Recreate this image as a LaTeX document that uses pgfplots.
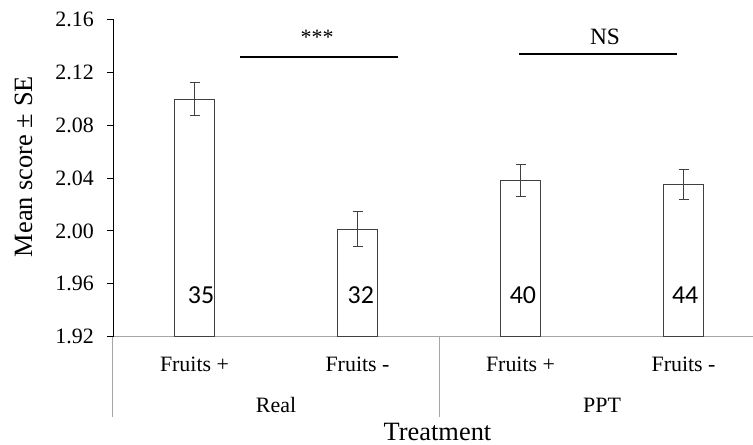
\documentclass[border=0pt]{standalone}
\usepackage{pgfplots}
\pgfplotsset{compat=1.18}
\usepackage{fontspec}
\setmainfont{Liberation Serif}
\newfontfamily\calibri{Carlito}
\definecolor{axgray}{HTML}{A6A6A6}
\definecolor{bardark}{HTML}{404040}
\begin{document}
\begin{tikzpicture}
\begin{axis}[
    at={(0,0)}, anchor=south west,
    scale only axis,
    width=640bp, height=317.4bp,
    xmin=-0.5, xmax=3.426,
    ymin=1.92, ymax=2.16,
    clip mode=individual,
    axis x line*=bottom, axis y line*=left,
    x axis line style={draw=axgray, line width=1bp, -},
    y axis line style={draw=black, line width=0.9bp, -},
    ytick={1.92,1.96,2.00,2.04,2.08,2.12,2.16},
    ytick align=outside,
    major tick length=6bp,
    ytick style={black, line width=0.9bp},
    yticklabel style={/pgf/number format/fixed, /pgf/number format/fixed zerofill,
        /pgf/number format/precision=2, /pgf/number format/assume math mode=true,
        font=\fontsize{22}{26}\selectfont, inner sep=0pt, xshift=-13bp},
    xtick={0,1,2,3},
    xticklabels={Fruits +, Fruits -, Fruits +, Fruits -},
    xtick style={draw=none},
    xticklabel style={font=\fontsize{22}{26}\selectfont, anchor=base, inner sep=0pt, yshift=-35bp},
    extra x ticks={0.5,2.5},
    extra x tick labels={Real, PPT},
    extra x tick style={xtick style={draw=none},
        xticklabel style={yshift=-40.3bp}},
    ylabel={Mean score ± SE},
    ylabel style={font=\fontsize{26.5}{30}\selectfont, at={(axis description cs:-0.14,0.536)},
        anchor=center},
    xlabel={Treatment},
    xlabel style={font=\fontsize{26.5}{30}\selectfont, at={(axis description cs:0.507,-0.327)},
        anchor=base},
]
\addplot[ybar, bar width=40.5bp, fill=white, draw=bardark, line width=1bp,
    error bars/.cd, y dir=both, y explicit,
    error bar style={draw=bardark, line width=1bp},
    error mark options={rotate=90, mark size=5bp, draw=bardark, line width=1bp}]
coordinates {
    (0,2.0996) +- (0,0.0125)
    (1,2.0013) +- (0,0.0133)
    (2,2.0380) +- (0,0.0120)
    (3,2.0350) +- (0,0.0113)
};
% sample sizes inside bars
\node[font=\calibri\fontsize{26}{30}\selectfont] at (axis cs:0.04,1.9515) {35};
\node[font=\calibri\fontsize{26}{30}\selectfont] at (axis cs:1.02,1.9515) {32};
\node[font=\calibri\fontsize{26}{30}\selectfont] at (axis cs:2.015,1.9515) {40};
\node[font=\calibri\fontsize{26}{30}\selectfont] at (axis cs:3.01,1.9515) {44};
% significance
\draw[black, line width=1.8bp] (axis cs:0.279,2.1317) -- (axis cs:1.248,2.1317);
\draw[black, line width=1.8bp] (axis cs:1.99,2.1335) -- (axis cs:2.96,2.1335);
\node[anchor=base, inner sep=0pt, font=\fontsize{22}{26}\selectfont] at (axis cs:0.752,2.1406) {***};
\node[anchor=base, inner sep=0pt, font=\fontsize{23.5}{26}\selectfont] at (axis cs:2.518,2.1406) {NS};
% group separators
\draw[axgray, line width=1bp] (axis cs:-0.5,1.92) -- ([yshift=-80bp]axis cs:-0.5,1.92);
\draw[axgray, line width=1bp] (axis cs:1.5,1.92) -- ([yshift=-80bp]axis cs:1.5,1.92);
\end{axis}
\pgfresetboundingbox
\useasboundingbox (-113bp,-108.3bp) rectangle (640bp,336.7bp);
\end{tikzpicture}
\end{document}
